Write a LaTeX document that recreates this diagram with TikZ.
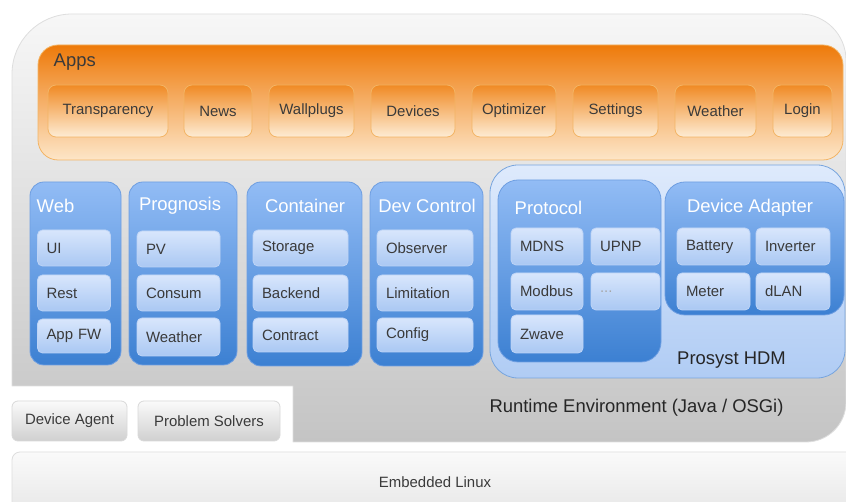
\documentclass[tikz,border=0pt]{standalone}
\usepackage{fontspec}
\setmainfont{Liberation Sans}
\definecolor{txtgray}{RGB}{58,58,58}
\definecolor{appstop}{RGB}{238,122,10}
\definecolor{appsbot}{RGB}{253,230,200}
\definecolor{appsline}{RGB}{243,180,100}
\definecolor{btntop}{RGB}{240,138,36}
\definecolor{btnbot}{RGB}{253,236,212}
\definecolor{coltop}{RGB}{146,188,245}
\definecolor{colbot}{RGB}{60,128,210}
\definecolor{colline}{RGB}{110,158,225}
\definecolor{leaftop}{RGB}{216,230,252}
\definecolor{leafbot}{RGB}{170,200,243}
\definecolor{leafline}{RGB}{190,212,246}
\definecolor{hdmtop}{RGB}{222,234,252}
\definecolor{hdmbot}{RGB}{176,204,244}
\definecolor{hdmline}{RGB}{120,165,222}
\definecolor{rtetop}{RGB}{247,247,247}
\definecolor{rtebot}{RGB}{196,196,196}
\definecolor{rteline}{RGB}{222,222,222}
\definecolor{greytop}{RGB}{250,250,250}
\definecolor{greybot}{RGB}{208,208,208}

\begin{document}
\begin{tikzpicture}[line join=bevel,
    every node/.style={font=\fontsize{15}{18}\selectfont, text=txtgray},
    appsframe/.style={draw=appsline, rounded corners=20bp, top color=appstop, bottom color=appsbot},
    appbtn/.style={draw=appsline, rounded corners=8bp, top color=btntop, bottom color=btnbot, inner sep=0pt},
    colpanel/.style={draw=colline, rounded corners=14bp, top color=coltop, bottom color=colbot, inner sep=0pt},
    hdmframe/.style={draw=hdmline, rounded corners=28bp, top color=hdmtop, bottom color=hdmbot, inner sep=0pt},
    leaf/.style={draw=leafline, rounded corners=5bp, top color=leaftop, bottom color=leafbot,
      text width=#1, align=left, inner xsep=9bp, inner ysep=0pt},
    paneltitle/.style={font=\fontsize{18.5}{22}\selectfont, text=white},
    bigtext/.style={font=\fontsize{18.5}{22}\selectfont, text=black!85},
    greybtn/.style={draw=greybot!80, rounded corners=6bp, top color=greytop, bottom color=greybot, inner sep=0pt},
    linuxbar/.style={draw=rteline, rounded corners=8bp, top color=greytop, bottom color=rtetop!70!rtebot}]
  \pgfsetlinewidth{0.8bp}
  \useasboundingbox (0bp,0bp) rectangle (846bp,502bp);
  \fill[white] (0bp,0bp) rectangle (846bp,502bp);
  %%
  % Runtime environment (grey frame with notch)
  \draw[draw=rteline, top color=rtetop, bottom color=rtebot]
    (12bp,116bp) -- (12bp,428bp) arc[start angle=180, end angle=90, radius=60bp]
    -- (800bp,488bp) arc[start angle=90, end angle=0, radius=46bp]
    -- (846bp,100bp) arc[start angle=0, end angle=-90, radius=40bp]
    -- (293bp,60bp) -- (293bp,116bp) -- cycle;
  \node[bigtext] (runtime) at (636.5bp,94bp) {Runtime Environment (Java / OSGi)};
  %
  % Node: apps
  \node[appsframe, minimum width=805bp, minimum height=115bp] (apps) at (440.5bp,399.5bp) {};
  \node[bigtext, anchor=west, text=txtgray] (appstitle) at (50bp,440bp) {Apps};
  \node[appbtn, minimum width=120bp, minimum height=52bp] (transparency) at (108bp,391bp) {Transparency};
  \node[appbtn, minimum width=68bp, minimum height=52bp] (news) at (218bp,391bp) {News};
  \node[appbtn, minimum width=85bp, minimum height=52bp] (wallplugs) at (311.5bp,391bp) {Wallplugs};
  \node[appbtn, minimum width=84bp, minimum height=52bp] (devices) at (413bp,391bp) {Devices};
  \node[appbtn, minimum width=84bp, minimum height=52bp] (optimizer) at (514bp,391bp) {Optimizer};
  \node[appbtn, minimum width=85bp, minimum height=52bp] (settings) at (615.5bp,391bp) {Settings};
  \node[appbtn, minimum width=81bp, minimum height=52bp] (weatherapp) at (715.5bp,391bp) {Weather};
  \node[appbtn, minimum width=59bp, minimum height=52bp] (login) at (802.5bp,391bp) {Login};
  %
  % Node: web
  \node[colpanel, minimum width=91bp, minimum height=183bp] (web) at (75.5bp,228.5bp) {};
  \node[paneltitle, anchor=west] (webtitle) at (33bp,296bp) {Web};
  \node[leaf=55bp, minimum height=36bp] (ui) at (74bp,254bp) {UI};
  \node[leaf=55bp, minimum height=36bp] (rest) at (74bp,209bp) {Rest};
  \node[leaf=55bp, minimum height=34bp] (appfw) at (74bp,166bp) {App FW};
  %
  % Node: prognosis
  \node[colpanel, minimum width=108bp, minimum height=183bp] (prognosis) at (183bp,228.5bp) {};
  \node[paneltitle] (prognosistitle) at (180bp,296bp) {Prognosis};
  \node[leaf=65bp, minimum height=36bp] (pv) at (178.5bp,253bp) {PV};
  \node[leaf=65bp, minimum height=36bp] (consum) at (178.5bp,209bp) {Consum};
  \node[leaf=65bp, minimum height=38bp] (weatherprog) at (178.5bp,165bp) {Weather};
  %
  % Node: container
  \node[colpanel, minimum width=115bp, minimum height=184bp] (container) at (304.5bp,228bp) {};
  \node[paneltitle] (containertitle) at (305bp,296bp) {Container};
  \node[leaf=77bp, minimum height=36bp] (storage) at (300.5bp,254bp) {Storage};
  \node[leaf=77bp, minimum height=36bp] (backend) at (300.5bp,209bp) {Backend};
  \node[leaf=77bp, minimum height=34bp] (contract) at (300.5bp,167bp) {Contract};
  %
  % Node: devcontrol
  \node[colpanel, minimum width=113bp, minimum height=184bp] (devcontrol) at (426.5bp,228bp) {};
  \node[paneltitle] (devcontroltitle) at (427bp,296bp) {Dev Control};
  \node[leaf=78bp, minimum height=36bp] (observer) at (425bp,254bp) {Observer};
  \node[leaf=78bp, minimum height=36bp] (limitation) at (425bp,209bp) {Limitation};
  \node[leaf=78bp, minimum height=34bp] (config) at (425bp,167bp) {Config};
  %
  % Node: prosyst
  \node[hdmframe, minimum width=355bp, minimum height=213bp] (prosyst) at (667.5bp,230.5bp) {};
  \node[bigtext] (prosysttitle) at (731.5bp,142bp) {Prosyst HDM};
  %
  % Node: protocol
  \node[colpanel, rounded corners=20bp, minimum width=163bp, minimum height=182bp] (protocol) at (579.5bp,231bp) {};
  \node[paneltitle, anchor=west] (protocoltitle) at (511bp,294bp) {Protocol};
  \node[leaf=54bp, minimum height=37bp] (mdns) at (547bp,255.5bp) {MDNS};
  \node[leaf=51bp, minimum height=37bp] (upnp) at (625.5bp,255.5bp) {UPNP};
  \node[leaf=54bp, minimum height=37bp] (modbus) at (547bp,210.5bp) {Modbus};
  \node[leaf=51bp, minimum height=37bp, text=black!35] (more) at (625.5bp,210.5bp) {...};
  \node[leaf=54bp, minimum height=38bp] (zwave) at (547bp,168bp) {Zwave};
  %
  % Node: adapter
  \node[colpanel, rounded corners=20bp, minimum width=179bp, minimum height=133bp] (adapter) at (754.5bp,253.5bp) {};
  \node[paneltitle] (adaptertitle) at (750bp,294bp) {Device Adapter};
  \node[leaf=55bp, minimum height=37bp] (battery) at (713.5bp,255.5bp) {Battery};
  \node[leaf=56bp, minimum height=37bp] (inverter) at (793bp,255.5bp) {Inverter};
  \node[leaf=55bp, minimum height=37bp] (meter) at (713.5bp,210.5bp) {Meter};
  \node[leaf=56bp, minimum height=37bp] (dlan) at (793bp,210.5bp) {dLAN};
  %
  % Node: agents
  \node[greybtn, minimum width=115bp, minimum height=40bp] (deviceagent) at (69.5bp,81bp) {Device Agent};
  \node[greybtn, minimum width=142bp, minimum height=40bp] (solvers) at (209bp,81bp) {Problem Solvers};
  %
  % Node: linux
  \node[linuxbar, minimum width=846bp, minimum height=60bp] (linux) at (435bp,20bp) {Embedded Linux};
  %
\end{tikzpicture}
\end{document}
